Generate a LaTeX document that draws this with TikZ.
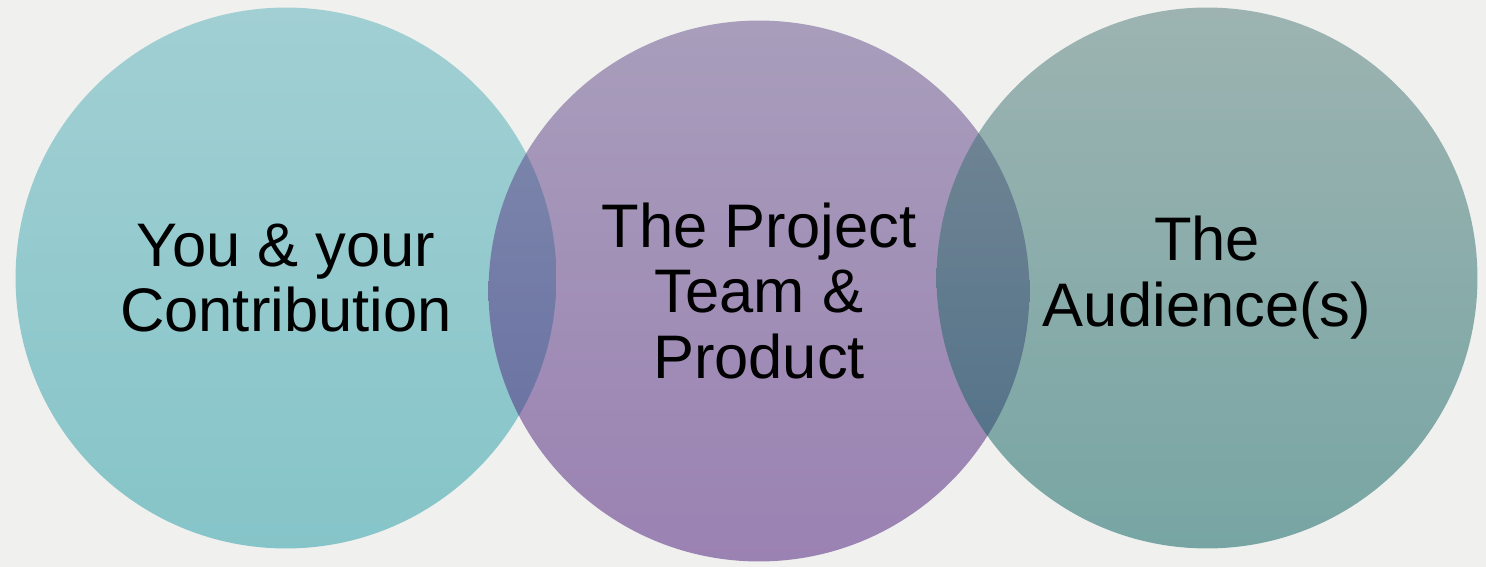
\documentclass[tikz,border=0pt]{standalone}
\usepackage{fontspec}
\setmainfont{Liberation Sans}
\definecolor{bgc}{RGB}{240,241,238}
\definecolor{youtop}{RGB}{84,175,186}
\definecolor{youbot}{RGB}{28,153,164}
\definecolor{teamtop}{RGB}{98,75,138}
\definecolor{teambot}{RGB}{70,20,120}
\definecolor{audtop}{RGB}{74,119,118}
\definecolor{audbot}{RGB}{0,91,90}
\begin{document}
\begin{tikzpicture}[x=0.02cm, y=-0.02cm,
  ring/.style={circle, minimum size=10.82cm, inner sep=0pt, outer sep=0pt,
    fill opacity=0.5, text opacity=1, align=center,
    font=\fontsize{35}{37.5}\selectfont}]
\fill[bgc] (0,0) rectangle (1486,567);
\node[ring, top color=youtop, bottom color=youbot] (C_you) at (286,278) {You \& your\\Contribution};
\node[ring, top color=teamtop, bottom color=teambot] (C_team) at (759,291) {The Project\\Team \&\\Product};
\node[ring, top color=audtop, bottom color=audbot] (C_aud) at (1207,278) {The\\Audience(s)};
\end{tikzpicture}
\end{document}
